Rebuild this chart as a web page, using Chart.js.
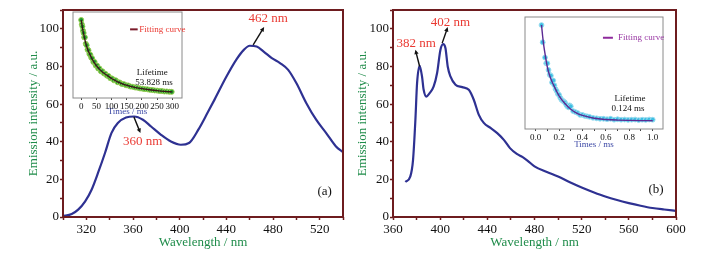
<!DOCTYPE html>
<html><head><meta charset="utf-8">
<script src="https://cdn.jsdelivr.net/npm/chart.js@4.4.0/dist/chart.umd.min.js"></script>
<style>
html,body{margin:0;padding:0;background:#fff;}
#wrap{position:relative;width:703px;height:253px;overflow:hidden;background:#fff;}
.box{position:absolute;}
canvas{display:block;}
</style></head><body>
<div id="wrap">
 <div class="box" style="left:0;top:0;"><canvas id="ca" width="352" height="253" style="width:352px;height:253px"></canvas></div>
 <div class="box" style="left:352px;top:0;"><canvas id="cb" width="351" height="253" style="width:351px;height:253px"></canvas></div>
 <div class="box" style="left:60px;top:4px;"><canvas id="ia" width="135" height="116" style="width:135px;height:116px"></canvas></div>
 <div class="box" style="left:515px;top:12px;"><canvas id="ib" width="160" height="140" style="width:160px;height:140px"></canvas></div>
</div>
<script>
// ---------- data ----------
const waveA = [300,302,307.5,313,319,324.5,330,336,341.5,347,354,361,368.5,375.5,384,392.5,401,408,416,424,430,440,449,455,460,466,472,479,486,493,500,508.6,517,525.6,534,540];
const intensA = [0.6,0.7,1.6,3.9,8.3,14.5,23.4,34,44.6,49.9,52.9,53.4,51.7,48.1,43.7,40.1,38.4,39.3,46.4,55.5,62.5,74.5,84,88.8,91,90.6,87.9,84.4,81.8,78.2,71.2,60.5,51.7,44.6,37.5,34.5];

const waveB = [370.5,374.7,377,379,380.4,382.6,384.6,386,388.3,391.1,394.5,397.4,400.2,402.5,404.5,406.4,408.7,413,418.7,424.3,428.5,432.8,437,442.7,448.4,454,459.2,465,470,474,480,490,500,510,520,530,540,550,560,570,580,590,600];
const intensB = [18.6,21.6,30.4,51.7,71,80.3,74.7,67.6,64,65.8,69.4,76.5,88.8,91.9,89.7,80,74.7,70.3,69,67.6,62.3,54.3,50,47.3,44.6,41,36.6,33.5,31.8,30,26.9,24,21.5,18.5,15.7,13.2,10.9,9,7.4,6,4.8,4,3.3];

const fitTimeA = [0,5,10,15,20,30,40,50,60,70,80,90,100,120,140,160,180,200,225,250,275,300];
const fitValA  = [1.00,0.87,0.77,0.68,0.61,0.51,0.43,0.37,0.32,0.28,0.25,0.22,0.19,0.145,0.11,0.085,0.065,0.05,0.035,0.022,0.012,0.005];
const dotTimeA = [0,2,4,6,8,10,12,15,18,21,24,27,30,33,36,40,44,48,52,56,60,65,70,75,80,85,90,96,102,108,114,120,127,134,141,148,155,162,170,178,186,194,202,210,218,226,234,242,250,258,266,274,282,290,298];
const dotValA  = [1.0,0.94,0.91,0.85,0.82,0.76,0.76,0.67,0.65,0.59,0.58,0.53,0.52,0.48,0.47,0.42,0.42,0.37,0.37,0.33,0.33,0.29,0.29,0.26,0.255,0.23,0.225,0.195,0.19,0.165,0.165,0.14,0.135,0.115,0.112,0.097,0.094,0.08,0.076,0.066,0.063,0.053,0.05,0.043,0.041,0.034,0.032,0.026,0.023,0.018,0.017,0.011,0.011,0.007,0.006];

const fitTimeB = [0.05,0.06,0.07,0.08,0.1,0.12,0.15,0.2,0.25,0.3,0.35,0.4,0.5,0.6,0.7,0.8,0.9,1.0];
const fitValB  = [1.0,0.88,0.78,0.70,0.56,0.47,0.38,0.26,0.18,0.12,0.08,0.055,0.025,0.012,0.006,0.003,0.001,0.0];
const dotTimeB = [0.05,0.06,0.08,0.09,0.1,0.11,0.12,0.13,0.14,0.15,0.16,0.17,0.18,0.19,0.2,0.21,0.22,0.23,0.24,0.25,0.26,0.27,0.28,0.29,0.3,0.32,0.34,0.36,0.38,0.4,0.42,0.44,0.46,0.49,0.52,0.55,0.58,0.61,0.64,0.67,0.7,0.73,0.76,0.79,0.82,0.85,0.88,0.91,0.94,0.97,1.0];
const dotValB  = [1.0,0.82,0.66,0.6,0.6,0.53,0.48,0.47,0.4,0.42,0.37,0.33,0.31,0.28,0.27,0.24,0.22,0.21,0.2,0.19,0.17,0.15,0.14,0.16,0.15,0.1,0.09,0.08,0.06,0.06,0.05,0.045,0.04,0.03,0.025,0.02,0.02,0.015,0.02,0.01,0.015,0.01,0.012,0.008,0.01,0.012,0.006,0.01,0.008,0.012,0.01];

// ---------- styles ----------
const SERIF = "'Liberation Serif','DejaVu Serif',serif";
const MAROON = '#6e1c1f';
const GREEN = '#1f8c4a';
const RED = '#ea3a33';
const NAVY = '#2e3192';

const pts = (xs, ys) => xs.map((x, i) => ({x, y: ys[i]}));

const framePlugin = {
  id: 'frame',
  beforeDraw(chart, args, o) {
    if (!o.fill) return;
    const {ctx, chartArea: a} = chart;
    ctx.save(); ctx.fillStyle = o.fill;
    ctx.fillRect(a.left, a.top, a.right - a.left, a.bottom - a.top);
    ctx.restore();
  },
  afterDatasetsDraw(chart, args, o) {
    const {ctx, chartArea: a} = chart;
    ctx.save(); ctx.strokeStyle = o.color; ctx.lineWidth = o.width;
    ctx.strokeRect(a.left, a.top, a.right - a.left, a.bottom - a.top);
    ctx.restore();
  }
};

const notesPlugin = {
  id: 'notes',
  afterDraw(chart, args, o) {
    const {ctx} = chart; const sx = chart.scales.x, sy = chart.scales.y;
    ctx.save();
    (o.arrows || []).forEach(ar => {
      const x1 = sx.getPixelForValue(ar.x1), y1 = sy.getPixelForValue(ar.y1);
      const x2 = sx.getPixelForValue(ar.x2), y2 = sy.getPixelForValue(ar.y2);
      const ang = Math.atan2(y2 - y1, x2 - x1), h = 5;
      ctx.strokeStyle = '#111'; ctx.fillStyle = '#111'; ctx.lineWidth = 1.4;
      ctx.beginPath(); ctx.moveTo(x1, y1);
      ctx.lineTo(x2 - Math.cos(ang) * h * 0.8, y2 - Math.sin(ang) * h * 0.8); ctx.stroke();
      ctx.beginPath(); ctx.moveTo(x2, y2);
      ctx.lineTo(x2 - h * Math.cos(ang - 0.45), y2 - h * Math.sin(ang - 0.45));
      ctx.lineTo(x2 - h * Math.cos(ang + 0.45), y2 - h * Math.sin(ang + 0.45));
      ctx.closePath(); ctx.fill();
    });
    (o.lines || []).forEach(l => {
      ctx.strokeStyle = l.color; ctx.lineWidth = l.width || 2;
      ctx.beginPath();
      ctx.moveTo(sx.getPixelForValue(l.x1), sy.getPixelForValue(l.y));
      ctx.lineTo(sx.getPixelForValue(l.x2), sy.getPixelForValue(l.y));
      ctx.stroke();
    });
    (o.texts || []).forEach(t => {
      ctx.fillStyle = t.color; ctx.font = t.font;
      ctx.textAlign = t.align || 'center'; ctx.textBaseline = 'middle';
      ctx.fillText(t.text, sx.getPixelForValue(t.x), sy.getPixelForValue(t.y));
    });
    ctx.restore();
  }
};

function mainOptions(cfg) {
  return {
    responsive: false, animation: false,
    layout: {padding: {left: 0, top: 10, right: cfg.padRight, bottom: 0}},
    plugins: {legend: {display: false}, tooltip: {enabled: false},
      frame: {color: MAROON, width: 2}, notes: cfg.notes},
    scales: {
      x: {type: 'linear', min: cfg.xmin, max: cfg.xmax,
        afterFit(s) { s.height = 36; },
        border: {display: false},
        grid: {drawOnChartArea: false, drawTicks: true, tickLength: 3, tickColor: MAROON, tickWidth: 1.5},
        ticks: {stepSize: 20, autoSkip: false, maxRotation: 0, padding: 2, color: '#111',
          font: {family: SERIF, size: 13}, callback: v => (v % 40 === 0 ? String(v) : '')},
        title: {display: true, text: 'Wavelength / nm', color: GREEN,
          font: {family: SERIF, size: 13}, padding: {top: 0, bottom: 3}}
      },
      y: {type: 'linear', min: 0, max: 110,
        afterFit(s) { s.width = cfg.yWidth; },
        border: {display: false},
        grid: {drawOnChartArea: false, drawTicks: true, tickLength: 3, tickColor: MAROON, tickWidth: 1.5},
        ticks: {stepSize: 10, autoSkip: false, padding: 1, color: '#111',
          font: {family: SERIF, size: 13}, callback: v => (v % 20 === 0 ? String(v) : '')},
        title: {display: true, text: 'Emission intensity / a.u.', color: GREEN,
          font: {family: SERIF, size: 13}, padding: {top: cfg.titlePad, bottom: 0}}
      }
    }
  };
}

const LBL = `13px ${SERIF}`;

new Chart(document.getElementById('ca'), {
  type: 'line',
  data: {datasets: [{data: pts(waveA, intensA), borderColor: NAVY, borderWidth: 2.2,
    pointRadius: 0, cubicInterpolationMode: 'monotone', fill: false}]},
  options: mainOptions({xmin: 300, xmax: 540, padRight: 9, yWidth: 63, titlePad: 26,
    notes: {
      arrows: [{x1: 463, y1: 91.5, x2: 472.4, y2: 101}, {x1: 360.8, y1: 53.1, x2: 366.4, y2: 44.6}],
      texts: [
        {x: 475.8, y: 105.3, text: '462 nm', color: RED, font: LBL},
        {x: 368.4, y: 40.1, text: '360 nm', color: RED, font: LBL},
        {x: 524.3, y: 13.6, text: '(a)', color: '#111', font: LBL}
      ]}}),
  plugins: [framePlugin, notesPlugin]
});

new Chart(document.getElementById('cb'), {
  type: 'line',
  data: {datasets: [{data: pts(waveB, intensB), borderColor: NAVY, borderWidth: 2.2,
    pointRadius: 0, cubicInterpolationMode: 'monotone', fill: false}]},
  options: mainOptions({xmin: 360, xmax: 600, padRight: 27, yWidth: 41, titlePad: 3,
    notes: {
      arrows: [{x1: 382.6, y1: 80, x2: 379, y2: 88.9}, {x1: 401.7, y1: 92.4, x2: 406.4, y2: 100.9}],
      texts: [
        {x: 379.6, y: 92.4, text: '382 nm', color: RED, font: LBL},
        {x: 408.7, y: 103.3, text: '402 nm', color: RED, font: LBL},
        {x: 583, y: 14.5, text: '(b)', color: '#111', font: LBL}
      ]}}),
  plugins: [framePlugin, notesPlugin]
});

function insetOptions(cfg) {
  return {
    responsive: false, animation: false,
    layout: {padding: cfg.pad},
    plugins: {legend: {display: false}, tooltip: {enabled: false},
      frame: {color: '#8a8a8a', width: 1, fill: '#ffffff'}, notes: cfg.notes},
    scales: {
      x: {type: 'linear', min: cfg.xmin, max: cfg.xmax,
        afterFit(s) { s.height = cfg.xh; },
        border: {display: false},
        grid: {drawOnChartArea: false, drawTicks: true, tickLength: 2, tickColor: '#444', tickWidth: 1},
        ticks: {stepSize: cfg.step, includeBounds: false, autoSkip: false, maxRotation: 0, padding: 1,
          color: '#111', font: {family: SERIF, size: 9}, callback: cfg.cb},
        title: {display: true, text: 'Times / ms', color: '#3d49a6',
          font: {family: SERIF, size: 9}, padding: {top: 0, bottom: cfg.tpb}}
      },
      y: {type: 'linear', display: false, min: cfg.ymin, max: cfg.ymax}
    }
  };
}

const SM = `9px ${SERIF}`;

new Chart(document.getElementById('ia'), {
  type: 'line',
  data: {datasets: [
    {data: pts(fitTimeA, fitValA), borderColor: '#3a1418', borderWidth: 1.3, pointRadius: 0,
     cubicInterpolationMode: 'monotone', fill: false},
    {data: pts(dotTimeA, dotValA), showLine: false, pointRadius: 2.5, pointBorderWidth: 1,
     pointBackgroundColor: '#1e9a2c', pointBorderColor: '#9ccf55'}
  ]},
  options: insetOptions({xmin: -27, xmax: 332, ymin: -0.079, ymax: 1.11, step: 50, xh: 22, tpb: 3,
    pad: {left: 13, right: 13, top: 8, bottom: 0},
    cb: v => String(v),
    notes: {
      lines: [{x1: 161, x2: 186, y: 0.87, color: '#7a1a2a', width: 2}],
      texts: [
        {x: 191, y: 0.87, text: 'Fitting curve', color: RED, font: SM, align: 'left'},
        {x: 234, y: 0.266, text: 'Lifetime', color: '#111', font: SM},
        {x: 240, y: 0.128, text: '53.828 ms', color: '#111', font: SM}
      ]}}),
  plugins: [framePlugin, notesPlugin]
});

new Chart(document.getElementById('ib'), {
  type: 'line',
  data: {datasets: [
    {data: pts(fitTimeB, fitValB), borderColor: '#5b2a93', borderWidth: 1.4, pointRadius: 0,
     cubicInterpolationMode: 'monotone', fill: false},
    {data: pts(dotTimeB, dotValB), showLine: false, pointRadius: 2.4, pointBorderWidth: 1,
     pointBackgroundColor: '#3dbfe3', pointBorderColor: '#9adcf0'}
  ]},
  options: insetOptions({xmin: -0.091, xmax: 1.088, ymin: -0.087, ymax: 1.084, step: 0.1, xh: 23, tpb: 1.6,
    pad: {left: 10, right: 12, top: 5, bottom: 0},
    cb: v => (Math.round(v * 10) % 2 === 0 ? v.toFixed(1) : ''),
    notes: {
      lines: [{x1: 0.575, x2: 0.66, y: 0.867, color: '#8e2a9c', width: 2}],
      texts: [
        {x: 0.703, y: 0.867, text: 'Fitting curve', color: '#9a3aa4', font: SM, align: 'left'},
        {x: 0.806, y: 0.226, text: 'Lifetime', color: '#111', font: SM},
        {x: 0.789, y: 0.129, text: '0.124 ms', color: '#111', font: SM}
      ]}}),
  plugins: [framePlugin, notesPlugin]
});
</script>
</body></html>
